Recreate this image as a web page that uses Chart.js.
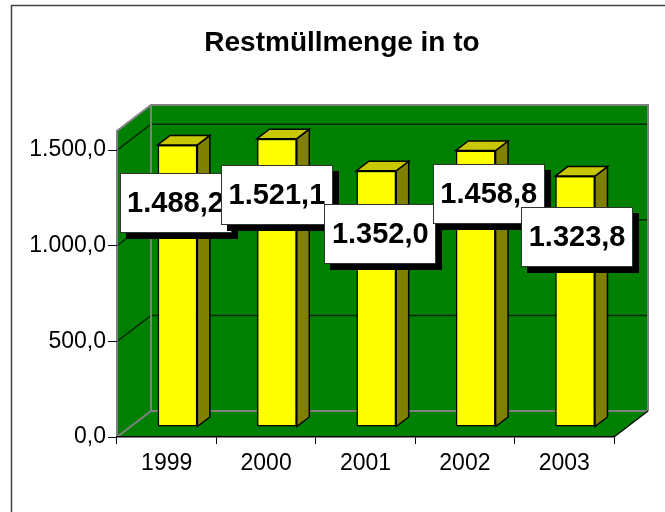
<!DOCTYPE html>
<html>
<head>
<meta charset="utf-8">
<script src="https://cdn.jsdelivr.net/npm/chart.js@4.4.0/dist/chart.umd.min.js"></script>
<style>
html,body{margin:0;padding:0;background:#fff;}
#wrap{width:665px;height:512px;}
canvas{display:block;}
</style>
</head>
<body>
<div id="wrap"><canvas id="c" width="665" height="512"></canvas></div>
<script>
// ---- data ----
const chartTitle = 'Restmüllmenge in to';
const categories = ['1999', '2000', '2001', '2002', '2003'];
const values = [1488.2, 1521.1, 1352.0, 1458.8, 1323.8];
const yTickValues = [0, 500, 1000, 1500];
const yMax = 1600;

// ---- layout / style constants ----
const FONT = "'Liberation Sans', Arial, sans-serif";
const GREEN = '#008000';
const WALL_EDGE = '#808080';
const WALL_DEPTH = {dx: 34, dy: -26};
const BAR_SHIFT = {dx: 10.8, dy: -10, s: 0.991};
const BAR_DEPTH = {dx: 12.5, dy: -9.5};
const LABEL_OFFSET_Y = 58;
const LABEL_NUDGE = [[-2, 0], [0, -2], [4, 5], [13, -15], [2, 3]];
const TITLE_POS = {x: 342, y: 51};

function fmtDE(v) {
  const parts = Number(v).toFixed(1).split('.');
  const intPart = parts[0].replace(/\B(?=(\d{3})+(?!\d))/g, '.');
  return intPart + ',' + parts[1];
}

const wallsPlugin = {
  id: 'walls',
  beforeDraw(chart) {
    const {ctx, chartArea: a, scales: {y}} = chart;
    const dx = WALL_DEPTH.dx, dy = WALL_DEPTH.dy;
    const L = a.left, R = a.right;
    const B = y.getPixelForValue(0), T = y.getPixelForValue(yMax);
    ctx.save();
    ctx.fillStyle = '#fff';
    ctx.fillRect(0, 0, chart.width, chart.height);
    // outer frame
    ctx.strokeStyle = '#404040';
    ctx.lineWidth = 1.5;
    ctx.strokeRect(11.5, 5.5, chart.width + 20, chart.height + 20);

    // title
    ctx.fillStyle = '#000';
    ctx.font = 'bold 28px ' + FONT;
    ctx.textAlign = 'center';
    ctx.textBaseline = 'alphabetic';
    ctx.fillText(chartTitle, TITLE_POS.x, TITLE_POS.y);

    ctx.fillStyle = GREEN;
    // floor
    ctx.beginPath();
    ctx.moveTo(L, B); ctx.lineTo(R, B); ctx.lineTo(R + dx, B + dy); ctx.lineTo(L + dx, B + dy);
    ctx.closePath(); ctx.fill();
    // left wall
    ctx.beginPath();
    ctx.moveTo(L, B); ctx.lineTo(L + dx, B + dy); ctx.lineTo(L + dx, T + dy); ctx.lineTo(L, T);
    ctx.closePath(); ctx.fill();
    // back wall
    ctx.fillRect(L + dx, T + dy, R - L, B - T);

    // gridlines
    ctx.strokeStyle = '#002800';
    ctx.lineWidth = 1.5;
    yTickValues.forEach(v => {
      if (v === 0) return;
      const py = y.getPixelForValue(v);
      ctx.beginPath();
      ctx.moveTo(L, py); ctx.lineTo(L + dx, py + dy); ctx.lineTo(R + dx, py + dy);
      ctx.stroke();
    });

    // wall edges
    ctx.strokeStyle = WALL_EDGE;
    ctx.lineWidth = 2;
    ctx.beginPath();
    ctx.moveTo(L, B); ctx.lineTo(L, T); ctx.lineTo(L + dx, T + dy); ctx.lineTo(R + dx, T + dy); ctx.lineTo(R + dx, B + dy);
    ctx.stroke();
    ctx.beginPath();
    ctx.moveTo(L + dx, T + dy); ctx.lineTo(L + dx, B + dy); ctx.lineTo(R + dx, B + dy);
    ctx.moveTo(L, B); ctx.lineTo(L + dx, B + dy);
    ctx.stroke();
    ctx.strokeStyle = '#000';
    ctx.lineWidth = 1.2;
    ctx.beginPath();
    ctx.moveTo(R, B); ctx.lineTo(R + dx, B + dy);
    ctx.stroke();
    ctx.restore();
  }
};

const barsPlugin = {
  id: 'bars3d',
  beforeDatasetsDraw(chart) {
    const {ctx, scales: {y}} = chart;
    const base0 = y.getPixelForValue(0);
    ctx.save();
    ctx.translate(BAR_SHIFT.dx, base0 + BAR_SHIFT.dy);
    ctx.scale(1, BAR_SHIFT.s);
    ctx.translate(0, -base0);
    const ddx = BAR_DEPTH.dx, ddy = BAR_DEPTH.dy / BAR_SHIFT.s;
    const meta = chart.getDatasetMeta(0);
    ctx.lineWidth = 1.5;
    ctx.strokeStyle = '#000';
    ctx.lineJoin = 'miter';
    meta.data.forEach(el => {
      const l = el.x - el.width / 2, r = el.x + el.width / 2, t = el.y, b = el.base;
      // side
      ctx.fillStyle = '#808000';
      ctx.beginPath();
      ctx.moveTo(r, t); ctx.lineTo(r + ddx, t + ddy); ctx.lineTo(r + ddx, b + ddy); ctx.lineTo(r, b);
      ctx.closePath(); ctx.fill(); ctx.stroke();
      // top
      ctx.fillStyle = '#c8c800';
      ctx.beginPath();
      ctx.moveTo(l, t); ctx.lineTo(l + ddx, t + ddy); ctx.lineTo(r + ddx, t + ddy); ctx.lineTo(r, t);
      ctx.closePath(); ctx.fill(); ctx.stroke();
    });
  },
  afterDatasetsDraw(chart) {
    const {ctx, scales: {y}} = chart;
    ctx.restore();
    const base0 = y.getPixelForValue(0);
    const meta = chart.getDatasetMeta(0);
    ctx.save();
    ctx.font = 'bold 29px ' + FONT;
    ctx.textAlign = 'center';
    ctx.textBaseline = 'middle';
    meta.data.forEach((el, i) => {
      const txt = fmtDE(values[i]);
      const topBar = base0 + BAR_SHIFT.dy + (el.y - base0) * BAR_SHIFT.s;
      const cx = el.x + BAR_SHIFT.dx + LABEL_NUDGE[i][0];
      const cy = topBar + LABEL_OFFSET_Y + LABEL_NUDGE[i][1];
      const w = Math.round(ctx.measureText(txt).width + 15);
      const h = 60;
      const x0 = Math.round(cx - w / 2), y0 = Math.round(cy - h / 2);
      ctx.fillStyle = '#000';
      ctx.fillRect(x0 + 6, y0 + 6, w, h);
      ctx.fillStyle = '#fff';
      ctx.fillRect(x0, y0, w, h);
      ctx.strokeStyle = '#333';
      ctx.lineWidth = 1;
      ctx.strokeRect(x0 + 0.5, y0 + 0.5, w - 1, h - 1);
      ctx.fillStyle = '#000';
      ctx.fillText(txt, cx, cy + 1);
    });
    ctx.restore();
  }
};

new Chart(document.getElementById('c'), {
  type: 'bar',
  data: {
    labels: categories,
    datasets: [{
      data: values,
      backgroundColor: '#ffff00',
      borderColor: '#000',
      borderWidth: 1.5,
      borderSkipped: false,
      barPercentage: 0.4,
      categoryPercentage: 1,
      clip: false
    }]
  },
  options: {
    responsive: false,
    animation: false,
    layout: {padding: {left: 12, right: 51, top: 131, bottom: 35}},
    plugins: {
      legend: {display: false},
      tooltip: {enabled: false},
      title: {display: false}
    },
    scales: {
      x: {
        afterFit(scale) { scale.height = 40; },
        grid: {drawOnChartArea: false, drawTicks: true, tickLength: 7, color: '#000', lineWidth: 1, offset: true},
        border: {display: true, color: '#000', width: 1.5},
        ticks: {color: '#000', font: {family: FONT, size: 23}, padding: 6, maxRotation: 0}
      },
      y: {
        min: 0,
        max: yMax,
        afterFit(scale) { scale.width = 105; },
        afterBuildTicks(scale) { scale.ticks = yTickValues.map(v => ({value: v})); },
        grid: {drawOnChartArea: false, drawTicks: true, tickLength: 9, color: '#000', lineWidth: 1},
        border: {display: false},
        ticks: {color: '#000', font: {family: FONT, size: 23}, padding: 2, callback: v => fmtDE(v)}
      }
    }
  },
  plugins: [wallsPlugin, barsPlugin]
});
</script>
</body>
</html>
